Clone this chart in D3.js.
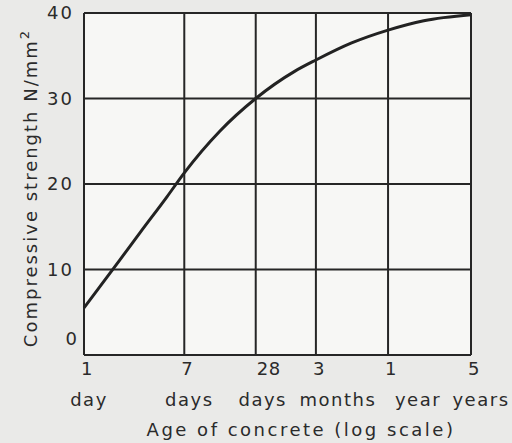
<!DOCTYPE html>
<html>
<head>
<meta charset="utf-8">
<script src="https://cdn.jsdelivr.net/npm/d3@7"></script>
<style>
    body { margin: 0; background: #eaeae8; }
    #svgDiv { width: 512px; height: 443px; }
    text { font-family: "DejaVu Sans", sans-serif; fill: #2b2b2b; }
</style>
</head>
<body>
<div id="svgDiv"></div>
<script>
//chart data
var ageDays = [1, 2, 3, 5, 7, 14, 28, 60, 90, 180, 365, 730, 1825];
var strength = [5.5, 11.1, 14.4, 18.5, 21.3, 26.2, 30, 33.2, 34.5, 36.5, 38, 39.1, 39.8];
var xTickDays = [1, 7, 28, 90, 365, 1825];
var xTickNums = ["1", "7", "28", "3", "1", "5"];
var xTickWords = ["day", "days", "days", "months", "year", "years"];
var yTicks = [10, 20, 30, 40];

//global variables
var xScale, yScale
var svg, svgHeight, svgWidth

document.addEventListener('DOMContentLoaded', function(){
    var svgDiv = document.getElementById("svgDiv");
    svgWidth = +svgDiv.offsetWidth;
    svgHeight = +svgDiv.offsetHeight;

    svg = d3.select("#svgDiv")
        .append("svg")
        .attr("width", svgWidth)
        .attr("height", svgHeight);

    setScales();
    drawGrid();
    drawLabels();
    drawCurve();
});

function setScales(){
    xScale = d3.scaleLog()
        .domain([1, 1825])
        .range([84, 471]);

    yScale = d3.scaleLinear()
        .domain([0, 40])
        .range([355, 13]);
}

//plot area, grid lines and frame
function drawGrid(){
    svg.append("rect")
        .attr("x", xScale(1))
        .attr("y", yScale(40))
        .attr("width", xScale(1825) - xScale(1))
        .attr("height", yScale(0) - yScale(40))
        .attr("fill", "#f7f7f5");

    svg.selectAll(".vgrid")
        .data(xTickDays)
        .enter().append("line")
        .attr("class", "vgrid")
        .attr("x1", d => xScale(d))
        .attr("x2", d => xScale(d))
        .attr("y1", yScale(0))
        .attr("y2", yScale(40))
        .attr("stroke", "#262626")
        .attr("stroke-width", 2);

    svg.selectAll(".hgrid")
        .data([0].concat(yTicks))
        .enter().append("line")
        .attr("class", "hgrid")
        .attr("x1", xScale(1))
        .attr("x2", xScale(1825))
        .attr("y1", d => yScale(d))
        .attr("y2", d => yScale(d))
        .attr("stroke", "#262626")
        .attr("stroke-width", 2);
}

function drawLabels(){
    svg.selectAll(".ylab")
        .data(yTicks)
        .enter().append("text")
        .attr("class", "ylab")
        .attr("x", xScale(1) - 10)
        .attr("y", d => yScale(d) + 6)
        .attr("text-anchor", "end")
        .attr("font-size", 18)
        .attr("letter-spacing", 2)
        .text(d => d);

    //the zero sits up and left of the corner
    svg.append("text")
        .attr("x", xScale(1) - 7)
        .attr("y", yScale(0) - 10)
        .attr("text-anchor", "end")
        .attr("font-size", 18)
        .text("0");

    svg.selectAll(".xnum")
        .data(xTickDays)
        .enter().append("text")
        .attr("class", "xnum")
        .attr("x", (d, i) => xScale(d) + (i == 2 ? 13 : 3))
        .attr("y", yScale(0) + 20)
        .attr("text-anchor", "middle")
        .attr("font-size", 18)
        .attr("letter-spacing", 0.5)
        .text((d, i) => xTickNums[i]);

    var wordOffset = [5, 5, 7, 22, 30, 10];
    svg.selectAll(".xword")
        .data(xTickDays)
        .enter().append("text")
        .attr("class", "xword")
        .attr("x", (d, i) => xScale(d) + wordOffset[i])
        .attr("y", yScale(0) + 51)
        .attr("text-anchor", "middle")
        .attr("font-size", 18)
        .attr("letter-spacing", 1.5)
        .text((d, i) => xTickWords[i]);

    svg.append("text")
        .attr("x", 301)
        .attr("y", 436)
        .attr("text-anchor", "middle")
        .attr("font-size", 18)
        .attr("letter-spacing", 2.5)
        .text("Age of concrete (log scale)");

    var yTitle = svg.append("text")
        .attr("transform", "translate(37," + 188 + ") rotate(-90)")
        .attr("text-anchor", "middle")
        .attr("font-size", 18)
        .attr("letter-spacing", 2);
    yTitle.append("tspan").text("Compressive strength N/mm");
    yTitle.append("tspan").attr("dy", -8).attr("font-size", 13).text("2");
}

//the strength curve
function drawCurve(){
    var line = d3.line()
        .x((d, i) => xScale(ageDays[i]))
        .y(d => yScale(d))
        .curve(d3.curveMonotoneX);

    svg.append("path")
        .datum(strength)
        .attr("d", line)
        .attr("fill", "none")
        .attr("stroke", "#222")
        .attr("stroke-width", 3);
}
</script>
</body>
</html>
